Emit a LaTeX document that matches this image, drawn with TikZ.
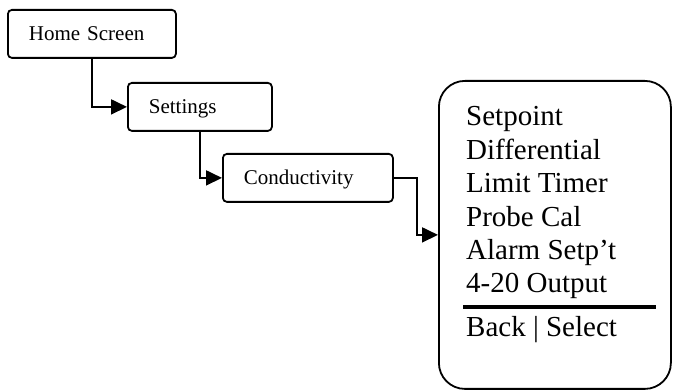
\documentclass[tikz,border=0pt]{standalone}
\usepackage{fontspec}
\setmainfont{Liberation Serif}
\usetikzlibrary{arrows.meta}

\tikzset{
    menubox/.style={draw, line width=1.8pt, rounded corners=4pt,
        anchor=north west, inner xsep=21pt, minimum height=48pt,
        align=left, text height=15pt, text depth=1pt,
        font=\fontsize{21}{25}\selectfont},
    screenbox/.style={draw, line width=1.8pt, rounded corners=26pt,
        anchor=north west, minimum width=232pt, minimum height=308pt},
    screentext/.style={anchor=base west, inner sep=0pt,
        font=\fontsize{29}{33}\selectfont},
    link/.style={line width=1.8pt, -{Triangle[length=16pt,width=15pt]}}
}

\begin{document}
\begin{tikzpicture}[x=1pt, y=-1pt]
        \useasboundingbox (0, 0) rectangle (673, 390);

        \node[menubox, text width=126pt] (home) at (7, 9) {Home Screen};
        \node[menubox, text width=102pt] (settings) at (127, 82) {Settings};
        \node[menubox, text width=128pt] (cond) at (222, 153) {Conductivity};
        \node[screenbox] (screen) at (438, 80) {};

        \draw[link] (home.south) |- (settings.west);
        \draw[link] (settings.south) |- (cond.west);
        \draw[link] (cond.east) -- ++(23, 0) |- (screen.west);

        \foreach \i/\item in {0/Setpoint, 1/Differential, 2/Limit Timer,
            3/Probe Cal, 4/Alarm Setp'{}t, 5/4-20 Output} {
            \node[screentext] (item\i) at (466, 126 + \i * 33.4) {\item};
        }

        \draw[line width=4pt] (463, 307) -- (656, 307);
        \node[screentext] (keys) at (466, 337) {Back | Select};
    \end{tikzpicture}
\end{document}
